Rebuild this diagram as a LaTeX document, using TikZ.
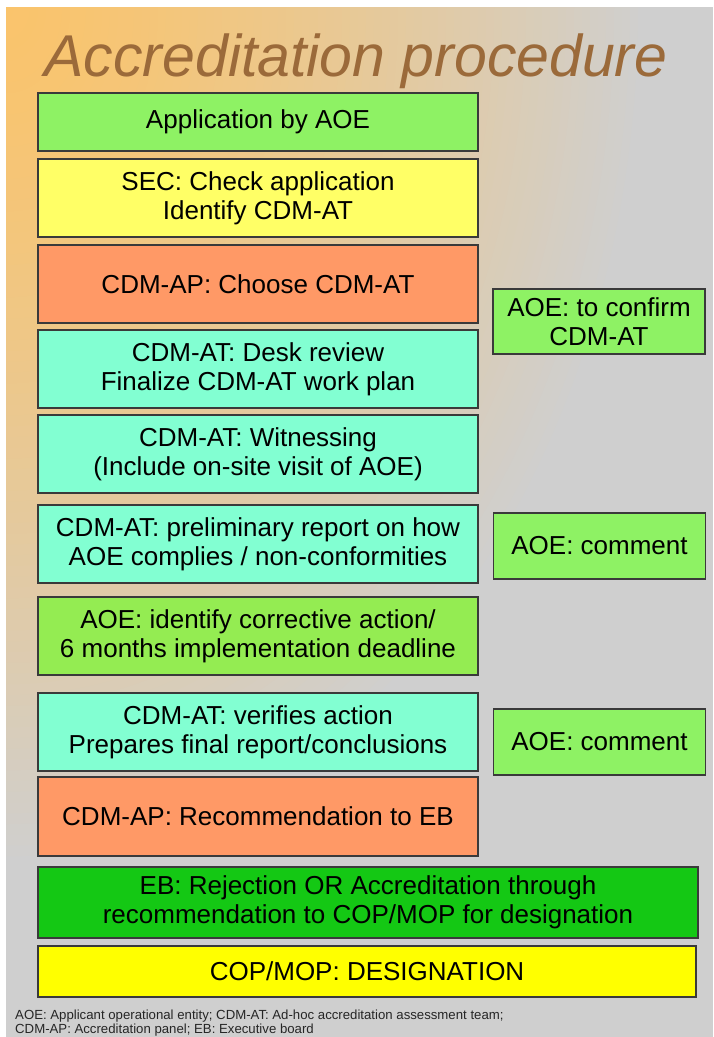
\documentclass[tikz,border=0pt]{standalone}
\usepackage{fontspec}
\setmainfont{Liberation Sans}
\newfontfamily\titlefont{Liberation Sans}
\definecolor{bgorange}{HTML}{FAC46C}
\definecolor{bggray}{HTML}{CFCFCF}
\definecolor{titlebrown}{HTML}{9B6A3A}
\definecolor{boxline}{HTML}{3A3A3A}
\definecolor{lightgreen}{HTML}{8EF264}
\definecolor{paleyellow}{HTML}{FFFF66}
\definecolor{salmon}{HTML}{FF9966}
\definecolor{aqua}{HTML}{82FFD2}
\definecolor{midgreen}{HTML}{94EC52}
\definecolor{darkgreen}{HTML}{14C814}
\definecolor{brightyellow}{HTML}{FFFF00}
\tikzset{
  stage/.style={draw=boxline, line width=1.1pt, inner sep=0pt, align=center,
    font=\fontsize{26}{29}\selectfont, text=black},
  mainstage/.style={stage, minimum width=440, minimum height=#1},
  sidestage/.style={stage, minimum width=212, minimum height=66},
}
\begin{document}
\begin{tikzpicture}[x=1pt, y=-1pt]
\useasboundingbox (0,0) rectangle (713,1037);
\fill[white] (0,0) rectangle (713,1037);
% slide background: warm corner fading into grey, built from nested ellipses
\fill[bggray] (6,7) rectangle (713,1037);
\begin{scope}
  \clip (6,7) rectangle (713,1037);
  \foreach \i in {80,79,...,1}{
    \pgfmathsetmacro\t{\i/80}
    \pgfmathsetmacro\p{100*(1-\t^1.4)}
    \fill[bgorange!\p!bggray] (6,7) ellipse ({640*\t} and {860*\t});
  }
\end{scope}

% title
\node[anchor=base, font=\titlefont\itshape\fontsize{59}{60}\selectfont, text=titlebrown]
  (title) at (356,76) {Accreditation procedure};

% main sequence of stages
\node[mainstage=58, fill=lightgreen] (s1) at (258,122) {Application by AOE};
\node[mainstage=78, fill=paleyellow] (s2) at (258,198) {SEC: Check application\\Identify CDM-AT};
\node[mainstage=78, fill=salmon] (s3) at (258,284) {CDM-AP: Choose CDM-AT};
\node[mainstage=78, fill=aqua] (s4) at (258,369) {CDM-AT: Desk review\\Finalize CDM-AT work plan};
\node[mainstage=78, fill=aqua] (s5) at (258,454) {CDM-AT: Witnessing\\(Include on-site visit of AOE)};
\node[mainstage=78, fill=aqua] (s6) at (258,544) {CDM-AT: preliminary report on how\\AOE complies / non-conformities};
\node[mainstage=78, fill=midgreen] (s7) at (258,636) {AOE: identify corrective action/\\6 months implementation deadline};
\node[mainstage=78, fill=aqua] (s8) at (258,732) {CDM-AT: verifies action\\Prepares final report/conclusions};
\node[mainstage=79, fill=salmon] (s9) at (258,816.5) {CDM-AP: Recommendation to EB};
\node[stage, minimum width=660, minimum height=71, fill=darkgreen] (s10) at (368,902.5)
  {EB: Rejection OR Accreditation through\\recommendation to COP/MOP for designation};
\node[stage, minimum width=658, minimum height=51, fill=brightyellow] (s11) at (367,971.5)
  {COP/MOP: DESIGNATION};

% AOE side actions
\node[sidestage, minimum height=65, fill=lightgreen] (a1) at (599,321.5) {AOE: to confirm\\CDM-AT};
\node[sidestage, fill=lightgreen] (a2) at (599.5,546) {AOE: comment};
\node[sidestage, fill=lightgreen] (a3) at (599.5,742) {AOE: comment};

% abbreviations
\node[anchor=west, align=left, inner sep=0pt, font=\fontsize{13.2}{14}\selectfont, text=black!85]
  (legend) at (15,1023) {AOE: Applicant operational entity; CDM-AT: Ad-hoc accreditation assessment team;\\CDM-AP: Accreditation panel; EB: Executive board};
\end{tikzpicture}
\end{document}
